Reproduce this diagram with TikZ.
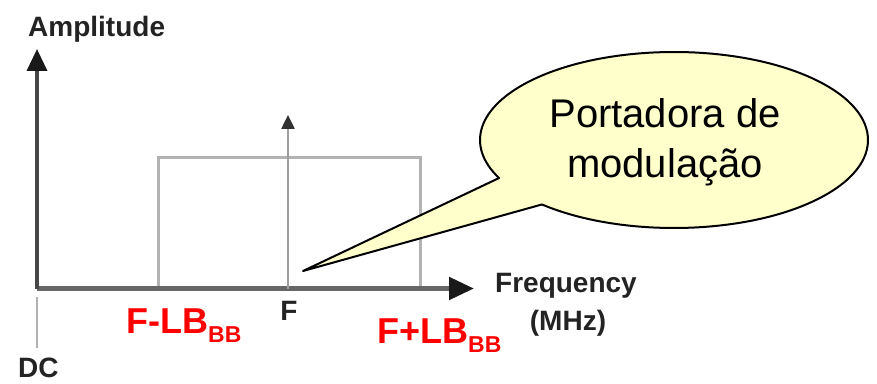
\documentclass[tikz,border=0pt]{standalone}
\usepackage{fontspec}
\setmainfont{Liberation Sans}
\usetikzlibrary{arrows.meta,calc}
\definecolor{balloon}{RGB}{255,255,204}
\definecolor{lbl}{RGB}{35,35,35}
\tikzset{
  axisline/.style={draw=black!60, line width=5pt},
  vaxis/.style={draw=black!72, line width=3.5pt},
  bandline/.style={draw=black!30, line width=3pt},
  tickline/.style={draw=black!30, line width=2.5pt},
  carrier/.style={draw=black!38, line width=2.5pt, -{Triangle[length=14pt,width=13pt,color=black!80]}},
  lab/.style={font=\fontsize{28}{30}\selectfont\bfseries, text=lbl, inner sep=0pt},
  redlab/.style={font=\fontsize{36}{38}\selectfont\bfseries, text=red, inner sep=0pt},
  calltext/.style={font=\fontsize{40}{50}\selectfont, align=center, inner sep=0pt},
  callout/.style={draw=black, line width=2pt, fill=balloon, line join=round}
}
\newcommand{\subBB}{\raisebox{-9pt}{\fontsize{23}{23}\selectfont BB}}
\begin{document}
\begin{tikzpicture}[x=1pt,y=1pt]
\useasboundingbox (0,0) rectangle (877,383);
% coordinates
\coordinate (origin) at (37,94.5);
\coordinate (vtip) at (37,334);
\coordinate (htip) at (474,94.5);
\coordinate (dctop) at (37,86);
\coordinate (dcbot) at (37,35);
\coordinate (bl) at (158,94.5);
\coordinate (tl) at (158,225);
\coordinate (tr) at (420,225);
\coordinate (br) at (420,94.5);
\coordinate (cbase) at (288,94.5);
\coordinate (ctip) at (288,268);
\coordinate (c) at (674,243);
\coordinate (tail) at (303,112);
% band
\draw[bandline] (bl) -- (tl) -- (tr) -- (br);
% axes
\draw[tickline] (dctop) -- (dcbot);
\draw[axisline, -{Triangle[length=25pt,width=22pt,color=black!90]}] (origin) -- (htip);
\draw[vaxis, -{Triangle[length=22pt,width=20pt,color=black!90]}] (origin) -- (vtip);
% carrier
\draw[carrier] (cbase) -- (ctip);
% callout balloon
\draw[callout] (tail) -- ($(c)+(227.1:194 and 88)$) arc[start angle=227.1, end angle=565.6, x radius=194, y radius=88] -- cycle;
\node[calltext] (calltxt) at (665,241) {Portadora de\\modulação};
% labels
\node[lab, anchor=base west] (amp) at (28,346) {Amplitude};
\node[lab, anchor=base west] (freq) at (495,91) {Frequency};
\node[lab, anchor=base] (mhz) at (568,53) {(MHz)};
\node[lab, anchor=base] (flab) at (289,63) {F};
\node[lab, anchor=base west] (dc) at (18,6) {DC};
\node[redlab, anchor=base west] (fminus) at (126,50) {F-LB\subBB};
\node[redlab, anchor=base west] (fplus) at (377,40) {F+LB\subBB};
\end{tikzpicture}
\end{document}
